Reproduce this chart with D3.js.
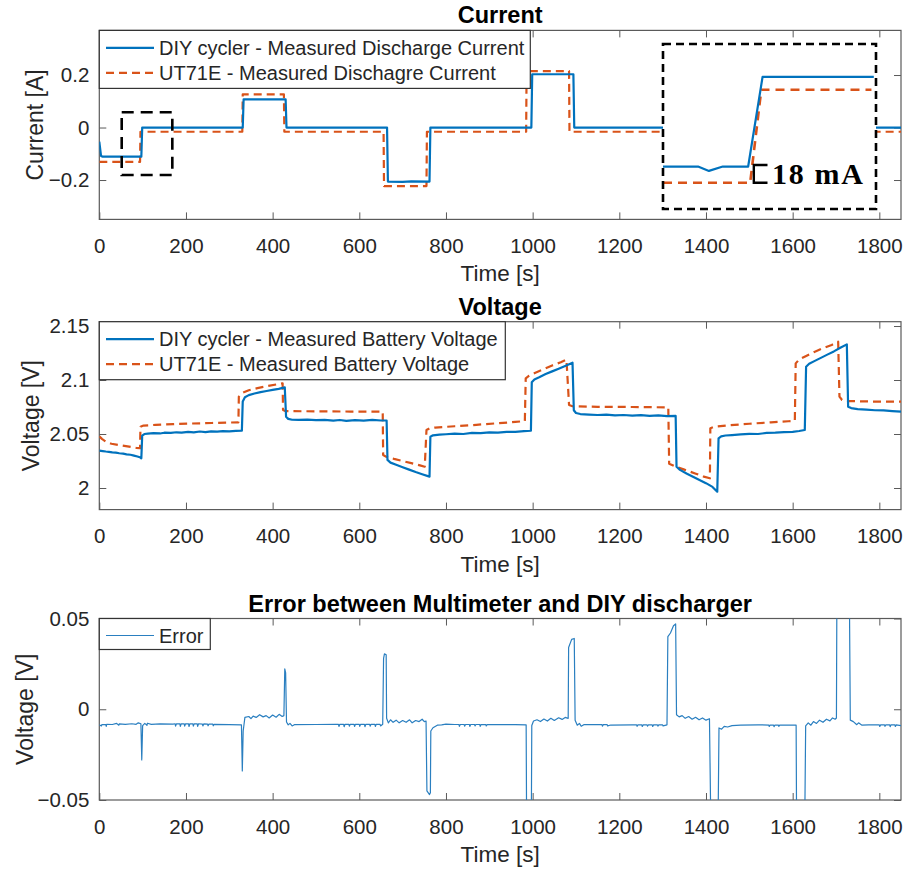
<!DOCTYPE html>
<html><head><meta charset="utf-8">
<script src="https://cdn.jsdelivr.net/npm/d3@7"></script>
<style>body{margin:0;background:#fff}svg{display:block}</style>
</head><body>
<svg id="c" width="906" height="873"></svg>
<script>
// ---------------- DATA ----------------
const xTicks = [0,200,400,600,800,1000,1200,1400,1600,1800];
const currentTicks = [-0.2,0,0.2];
const voltageTicks = [2,2.05,2.1,2.15];
const errorTicks = [-0.05,0,0.05];

const titles = ["Current","Voltage","Error between Multimeter and DIY discharger"];
const yLabels = ["Current [A]","Voltage [V]","Voltage [V]"];
const xLabel = "Time [s]";
const currentLegend = ["DIY cycler - Measured Discharge Current","UT71E - Measured Dischagre Current"];
const voltageLegend = ["DIY cycler - Measured Battery Voltage","UT71E - Measured Battery Voltage"];
const errorLegend = ["Error"];

// [time s, current A]
const currentDiy = [[0,-0.054],[4,-0.108],[8,-0.111],[97,-0.111],[99,0],[331,0],[333,0.107],[430,0.107],[432,0],[664,0],[666,-0.206],[700,-0.207],[720,-0.205],[762,-0.206],[764,0],[997,0],[999,0.203],[1094,0.203],[1096,0],[1850,0]];
const currentUt = [[0,-0.131],[94,-0.131],[95,-0.016],[330,-0.016],[331,0.126],[426,0.126],[427,-0.016],[656,-0.016],[657,-0.223],[755,-0.223],[756,-0.016],[985,-0.016],[986,0.215],[1084,0.215],[1085,-0.016],[1850,-0.016]];

// inset (zoom of t = 52..168 s)
const insetDiy = [[51.7,-0.111],[70.9,-0.111],[76.9,-0.1164],[84.5,-0.111],[98.4,-0.111],[106.3,0],[167.3,0]];
const insetUt = [[51.7,-0.131],[99.5,-0.131],[105.6,-0.016],[166,-0.016]];
const insetText = "18 mA";

// [time s, voltage V]
const voltageDiy = [[0,2.0346],[8,2.0342],[15,2.0338],[22,2.0335],[30,2.0330],[38,2.0328],[46,2.0322],[55,2.0318],[63,2.0312],[72,2.0308],[80,2.0300],[88,2.0292],[95,2.0282],[97,2.0275],[99,2.0485],[104,2.0500],[112,2.0504],[125,2.0508],[140,2.0505],[150,2.0512],[165,2.0510],[178,2.0516],[190,2.0512],[205,2.0520],[218,2.0515],[232,2.0523],[245,2.0518],[258,2.0525],[272,2.0522],[285,2.0527],[300,2.0525],[315,2.0529],[329,2.0530],[331,2.0800],[336,2.0840],[345,2.0860],[358,2.0875],[372,2.0888],[386,2.0898],[400,2.0908],[414,2.0918],[428,2.0932],[431,2.0660],[436,2.0640],[445,2.0632],[460,2.0630],[480,2.0634],[500,2.0628],[520,2.0630],[540,2.0624],[555,2.0630],[570,2.0622],[590,2.0628],[610,2.0624],[630,2.0630],[650,2.0625],[663,2.0625],[665,2.0260],[672,2.0235],[685,2.0215],[700,2.0192],[715,2.0170],[730,2.0148],[745,2.0128],[762,2.0105],[764,2.0475],[770,2.0488],[785,2.0495],[800,2.0498],[820,2.0503],[840,2.0500],[860,2.0510],[880,2.0508],[900,2.0515],[920,2.0512],[940,2.0520],[960,2.0520],[980,2.0526],[996,2.0530],[998,2.0980],[1004,2.1005],[1015,2.1025],[1030,2.1055],[1045,2.1080],[1060,2.1105],[1075,2.1130],[1092,2.1160],[1095,2.0720],[1100,2.0695],[1110,2.0685],[1130,2.0680],[1150,2.0676],[1170,2.0680],[1190,2.0672],[1210,2.0676],[1230,2.0670],[1250,2.0674],[1270,2.0668],[1290,2.0672],[1310,2.0666],[1330,2.0667],[1332,2.0197],[1340,2.0168],[1355,2.0135],[1370,2.0105],[1385,2.0075],[1400,2.0045],[1415,2.0010],[1426,1.9966],[1429,2.0460],[1435,2.0478],[1445,2.0486],[1460,2.0490],[1480,2.0496],[1500,2.0502],[1520,2.0500],[1540,2.0510],[1560,2.0512],[1580,2.0518],[1600,2.0520],[1615,2.0528],[1628,2.0537],[1631,2.1123],[1638,2.1150],[1650,2.1175],[1665,2.1205],[1680,2.1235],[1695,2.1265],[1710,2.1298],[1725,2.1330],[1728,2.0753],[1735,2.0740],[1750,2.0730],[1770,2.0726],[1790,2.0720],[1810,2.0718],[1830,2.0712],[1850,2.0707]];
const voltageUt = [[0,2.0480],[6,2.0455],[15,2.0430],[28,2.0410],[45,2.0398],[65,2.0385],[85,2.0372],[94,2.0368],[95,2.0568],[102,2.0578],[130,2.0585],[170,2.0592],[210,2.0597],[260,2.0602],[300,2.0606],[321,2.0608],[322,2.0846],[330,2.0880],[345,2.0905],[365,2.0925],[390,2.0945],[410,2.0960],[423,2.0970],[424,2.0722],[430,2.0712],[500,2.0710],[580,2.0708],[654,2.0707],[655,2.0305],[662,2.0290],[680,2.0270],[700,2.0250],[720,2.0230],[740,2.0210],[751,2.0197],[755,2.0537],[762,2.0552],[775,2.0560],[820,2.0572],[870,2.0585],[920,2.0600],[960,2.0612],[982,2.0620],[984,2.1015],[992,2.1040],[1005,2.1065],[1025,2.1100],[1045,2.1135],[1065,2.1165],[1078,2.1190],[1084,2.0769],[1092,2.0757],[1150,2.0752],[1230,2.0750],[1313,2.0747],[1315,2.0225],[1330,2.0197],[1350,2.0170],[1375,2.0135],[1395,2.0105],[1409,2.0090],[1410,2.0553],[1420,2.0568],[1450,2.0580],[1500,2.0595],[1550,2.0608],[1590,2.0618],[1605,2.0623],[1607,2.1154],[1615,2.1190],[1630,2.1220],[1650,2.1260],[1670,2.1295],[1690,2.1325],[1705,2.1355],[1708,2.0846],[1714,2.0815],[1730,2.0805],[1790,2.0800],[1850,2.0799]];

// [time s, error V]
const errorData = [[0,-0.0086],[5,-0.0092],[6,-0.0084],[15,-0.0085],[16,-0.0094],[17,-0.0083],[30,-0.0084],[40,-0.0078],[45,-0.0088],[46,-0.0081],[60,-0.0083],[75,-0.0080],[85,-0.0083],[90,-0.0075],[96,-0.008],[98,-0.0279],[100,-0.009],[105,-0.0078],[110,-0.0089],[111,-0.0077],[120,-0.0083],[140,-0.0081],[170,-0.0082],[175,-0.0080],[176,-0.0093],[178,-0.0080],[186,-0.0081],[187,-0.0094],[189,-0.0080],[196,-0.0081],[197,-0.0093],[199,-0.008],[206,-0.0081],[207,-0.0095],[209,-0.0080],[216,-0.0081],[217,-0.0093],[219,-0.008],[226,-0.0081],[227,-0.0094],[229,-0.008],[238,-0.0082],[239,-0.0092],[241,-0.0081],[250,-0.0082],[251,-0.0091],[253,-0.0082],[262,-0.0082],[263,-0.0091],[265,-0.0083],[300,-0.0085],[328,-0.0086],[330,-0.034],[332,-0.012],[336,-0.0045],[345,-0.004],[350,-0.0052],[355,-0.0038],[362,-0.0045],[370,-0.003],[378,-0.0042],[385,-0.0035],[392,-0.0048],[400,-0.0032],[408,-0.0044],[415,-0.0028],[422,-0.004],[426,-0.0035],[428,0.0222],[430,0.02],[432,-0.007],[436,-0.0086],[440,-0.0078],[445,-0.0092],[450,-0.0085],[500,-0.0084],[545,-0.0083],[552,-0.0083],[553,-0.0095],[555,-0.0083],[564,-0.0083],[565,-0.0096],[567,-0.0083],[576,-0.0083],[577,-0.0093],[579,-0.0083],[588,-0.0083],[589,-0.0095],[591,-0.0083],[600,-0.0083],[601,-0.0094],[603,-0.0083],[612,-0.0083],[613,-0.0096],[615,-0.0083],[624,-0.0083],[625,-0.0093],[627,-0.0083],[636,-0.0083],[637,-0.0095],[639,-0.0083],[648,-0.0083],[649,-0.0092],[654,-0.0083],[656,0.028],[658,0.0305],[662,0.03],[663,-0.005],[667,-0.0075],[672,-0.0058],[678,-0.0072],[685,-0.006],[692,-0.0075],[700,-0.0062],[708,-0.0072],[716,-0.0058],[722,-0.0075],[730,-0.0062],[738,-0.0068],[745,-0.0055],[750,-0.0068],[754,-0.0065],[756,-0.045],[762,-0.047],[764,-0.046],[765,-0.012],[770,-0.0102],[780,-0.0088],[790,-0.0086],[800,-0.0082],[820,-0.0084],[830,-0.0084],[831,-0.0094],[833,-0.0084],[842,-0.0084],[843,-0.0093],[845,-0.0084],[854,-0.0084],[855,-0.0095],[857,-0.0084],[866,-0.0084],[867,-0.0092],[869,-0.0084],[878,-0.0084],[879,-0.0094],[881,-0.0084],[892,-0.0085],[893,-0.0092],[895,-0.0085],[930,-0.0085],[960,-0.0085],[985,-0.0086],[986,-0.06],[997,-0.06],[998,-0.009],[1002,-0.0065],[1010,-0.0058],[1018,-0.0068],[1026,-0.0054],[1034,-0.0065],[1042,-0.005],[1050,-0.0062],[1060,-0.0047],[1068,-0.0056],[1075,-0.0045],[1082,-0.005],[1083,0.034],[1090,0.0385],[1096,0.039],[1098,-0.006],[1103,-0.0088],[1108,-0.0078],[1112,-0.0094],[1118,-0.0085],[1150,-0.0085],[1160,-0.0085],[1161,-0.0093],[1163,-0.0085],[1172,-0.0085],[1173,-0.0092],[1180,-0.0087],[1230,-0.0086],[1240,-0.0086],[1241,-0.0094],[1243,-0.0086],[1252,-0.0086],[1253,-0.0095],[1255,-0.0086],[1264,-0.0086],[1265,-0.0093],[1267,-0.0086],[1276,-0.0086],[1277,-0.0095],[1279,-0.0086],[1288,-0.0086],[1289,-0.0093],[1291,-0.0086],[1300,-0.0086],[1301,-0.0092],[1310,-0.0086],[1312,0.04],[1318,0.042],[1325,0.046],[1330,0.047],[1332,-0.003],[1338,-0.0042],[1345,-0.0035],[1352,-0.005],[1360,-0.004],[1368,-0.0055],[1376,-0.0044],[1384,-0.0058],[1392,-0.0048],[1400,-0.006],[1408,-0.0052],[1411,-0.06],[1428,-0.06],[1430,-0.0103],[1436,-0.011],[1442,-0.0094],[1450,-0.0098],[1460,-0.009],[1480,-0.0088],[1520,-0.0086],[1545,-0.0087],[1546,-0.0095],[1548,-0.0087],[1556,-0.0087],[1557,-0.0096],[1559,-0.0087],[1567,-0.0087],[1568,-0.0094],[1570,-0.0087],[1608,-0.0088],[1609,-0.06],[1628,-0.06],[1630,-0.0092],[1636,-0.0075],[1642,-0.0088],[1648,-0.0068],[1655,-0.0078],[1662,-0.006],[1670,-0.0072],[1678,-0.0055],[1686,-0.0064],[1692,-0.0048],[1698,-0.0055],[1701,-0.0048],[1702,0.06],[1731,0.06],[1733,-0.006],[1740,-0.0068],[1748,-0.0085],[1752,-0.0075],[1760,-0.0088],[1775,-0.0086],[1800,-0.0086],[1801,-0.0095],[1803,-0.0086],[1812,-0.0086],[1813,-0.0094],[1815,-0.0086],[1824,-0.0086],[1825,-0.0096],[1827,-0.0086],[1836,-0.0086],[1837,-0.0095],[1839,-0.0086],[1850,-0.009]];

// ---------------- DRAWING ----------------
const BLUE = "#0072BD", ORANGE = "#D95319", AXIS = "#5a5a5a", TXT = "#262626";
const FONT = "'Liberation Sans', Arial, Helvetica, sans-serif";
const svg = d3.select("#c");
const x = d3.scaleLinear().domain([0,1850]).range([99.3,901]);
const L = 99.3, R = 901;

const panels = [
  {top:30.4, bottom:219.4, domain:[-0.35,0.37], ticks:currentTicks, fmt:d=>d===0?"0":d3.format(".1f")(d)},
  {top:321.7, bottom:509.6, domain:[1.98,2.154], ticks:voltageTicks, fmt:d=>String(+d.toFixed(2))},
  {top:618.5, bottom:800, domain:[-0.05,0.05], ticks:errorTicks, fmt:d=>d===0?"0":d3.format(".2f")(d)}
];
panels.forEach((p,i)=>{ p.y = d3.scaleLinear().domain(p.domain).range([p.bottom,p.top]); });

function drawAxes(p, i){
  const g = svg.append("g");
  const styleAxis = sel => {
    sel.select(".domain").remove();
    sel.attr("font-family", FONT).attr("font-size", 20.5);
    sel.selectAll(".tick line").attr("stroke", AXIS).attr("stroke-width", 1);
    sel.selectAll(".tick text").attr("fill", TXT);
  };
  g.append("g").attr("transform",`translate(0,${p.bottom})`)
    .call(d3.axisBottom(x).tickValues(xTicks).tickSize(-7).tickPadding(19).tickFormat(d3.format("d"))).call(styleAxis);
  g.append("g").attr("transform",`translate(0,${p.top})`)
    .call(d3.axisTop(x).tickValues(xTicks).tickSize(-7).tickFormat("")).call(styleAxis);
  g.append("g").attr("transform",`translate(${L},0)`)
    .call(d3.axisLeft(p.y).tickValues(p.ticks).tickSize(-7).tickPadding(10).tickFormat(p.fmt)).call(styleAxis);
  g.append("g").attr("transform",`translate(${R},0)`)
    .call(d3.axisRight(p.y).tickValues(p.ticks).tickSize(-7).tickFormat("")).call(styleAxis);
  g.append("rect").attr("x",L).attr("y",p.top).attr("width",R-L).attr("height",p.bottom-p.top)
    .attr("fill","none").attr("stroke",AXIS).attr("stroke-width",1.2);
  svg.append("text").attr("x",(L+R)/2).attr("y",p.top-7).attr("text-anchor","middle")
    .attr("font-family",FONT).attr("font-size",23.5).attr("font-weight","bold").attr("fill","#000").text(titles[i]);
  svg.append("text").attr("x",(L+R)/2).attr("y",p.bottom+62).attr("text-anchor","middle")
    .attr("font-family",FONT).attr("font-size",22.5).attr("fill",TXT).text(xLabel);
  const yx = [43,39,33][i];
  svg.append("text").attr("transform",`translate(${yx},${(p.top+p.bottom)/2}) rotate(-90)`).attr("text-anchor","middle")
    .attr("font-family",FONT).attr("font-size",23).attr("fill",TXT).text(yLabels[i]);
}

function clipFor(p, id){
  svg.append("clipPath").attr("id",id).append("rect")
    .attr("x",L).attr("y",p.top).attr("width",R-L).attr("height",p.bottom-p.top);
  return `url(#${id})`;
}

function drawLine(data, p, clip, color, width, dash){
  const line = d3.line().x(d=>x(d[0])).y(d=>p.y(d[1]));
  svg.append("path").datum(data).attr("d",line).attr("clip-path",clip)
    .attr("fill","none").attr("stroke",color).attr("stroke-width",width)
    .attr("stroke-dasharray",dash||null).attr("stroke-linejoin","round");
}

function drawLegend(p, labels, styles, width){
  const h = labels.length===2 ? 58 : 31;
  const g = svg.append("g");
  g.append("rect").attr("x",L).attr("y",p.top).attr("width",width).attr("height",h)
    .attr("fill","#fff").attr("stroke","#333").attr("stroke-width",1.2);
  labels.forEach((t,k)=>{
    const cy = p.top + (labels.length===2 ? 17.5 + k*25 : 17);
    g.append("line").attr("x1",106).attr("x2",154).attr("y1",cy).attr("y2",cy)
      .attr("stroke",styles[k].color).attr("stroke-width",styles[k].w).attr("stroke-dasharray",styles[k].dash||null);
    g.append("text").attr("x",159).attr("y",cy+7).attr("font-family",FONT).attr("font-size",20)
      .attr("fill",TXT).text(t);
  });
}

// Panel 1: current
drawAxes(panels[0],0);
const c0 = clipFor(panels[0],"clip0");
drawLine(currentUt, panels[0], c0, ORANGE, 2.2, "8,5");
drawLine(currentDiy, panels[0], c0, BLUE, 2.2);
const zoomT = [51.7,168.5], zoomI = [-0.181,0.058];
svg.append("rect").attr("x",x(zoomT[0])).attr("y",panels[0].y(zoomI[1]))
  .attr("width",x(zoomT[1])-x(zoomT[0])).attr("height",panels[0].y(zoomI[0])-panels[0].y(zoomI[1]))
  .attr("fill","none").attr("stroke","#000").attr("stroke-width",2.6).attr("stroke-dasharray","12,7");
drawLegend(panels[0], currentLegend, [{color:BLUE,w:2.2},{color:ORANGE,w:2.2,dash:"8,5"}], 431);

// inset
const ix = d3.scaleLinear().domain([51.7,168.5]).range([663,876]);
const iy = d3.scaleLinear().domain([-0.131,0]).range([182.7,76.8]);
svg.append("rect").attr("x",663).attr("y",44).attr("width",213).attr("height",165).attr("fill","#fff");
const iline = d3.line().x(d=>ix(d[0])).y(d=>iy(d[1]));
svg.append("path").datum(insetUt).attr("d",iline).attr("fill","none").attr("stroke",ORANGE).attr("stroke-width",2.6).attr("stroke-dasharray","9,6");
svg.append("path").datum(insetDiy).attr("d",iline).attr("fill","none").attr("stroke",BLUE).attr("stroke-width",2.2).attr("stroke-linejoin","round");
svg.append("path").attr("d",`M${ix(109)},${iy(-0.111)-1.5}H${ix(101.5)}V${iy(-0.131)}H${ix(109)}`)
  .attr("fill","none").attr("stroke","#000").attr("stroke-width",2.4);
svg.append("text").attr("x",772).attr("y",184).attr("font-family","'Liberation Serif', 'Times New Roman', serif")
  .attr("font-size",30).attr("font-weight","bold").attr("fill","#000").attr("textLength",91).attr("lengthAdjust","spacing").text(insetText);
svg.append("rect").attr("x",663).attr("y",44).attr("width",213).attr("height",165)
  .attr("fill","none").attr("stroke","#000").attr("stroke-width",2.6).attr("stroke-dasharray","8,5");

// Panel 2: voltage
drawAxes(panels[1],1);
const c1 = clipFor(panels[1],"clip1");
drawLine(voltageUt, panels[1], c1, ORANGE, 2.2, "8,5");
drawLine(voltageDiy, panels[1], c1, BLUE, 2.2);
drawLegend(panels[1], voltageLegend, [{color:BLUE,w:2.2},{color:ORANGE,w:2.2,dash:"8,5"}], 406);

// Panel 3: error
drawAxes(panels[2],2);
const c2 = clipFor(panels[2],"clip2");
drawLine(errorData, panels[2], c2, "#2a7fc0", 1.2);
drawLegend(panels[2], errorLegend, [{color:"#2a7fc0",w:1.2}], 111);
</script>
</body></html>
